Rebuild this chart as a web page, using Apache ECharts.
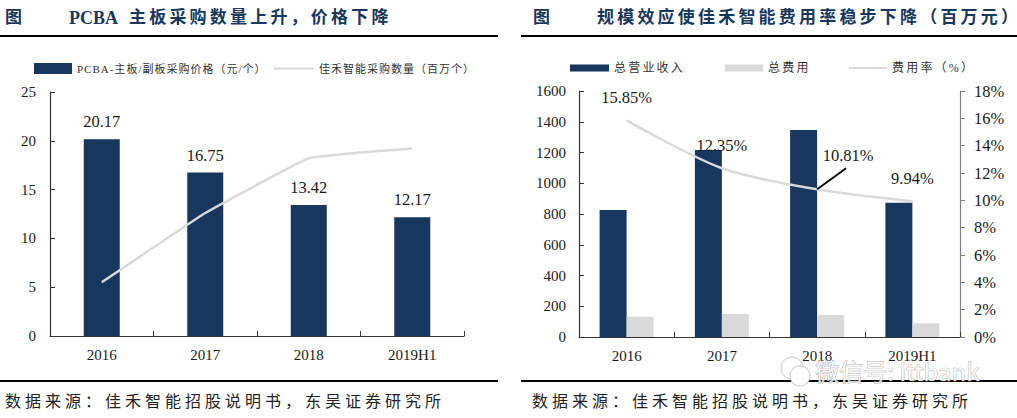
<!DOCTYPE html>
<html>
<head>
<meta charset="utf-8">
<script src="https://cdn.jsdelivr.net/npm/echarts@6/dist/echarts.min.js"></script>
<style>
html,body{margin:0;padding:0;background:#fff}
#c{width:1017px;height:418px}
svg text[style*="17px"]{letter-spacing:3.2px}
svg text[style*="16px"]{letter-spacing:4px}
svg text[style*="12px"]{letter-spacing:2.2px}
svg text[style*="11px"]{letter-spacing:1px}
</style>
</head>
<body>
<div id="c"></div>
<script>
var leftCategories = ['2016','2017','2018','2019H1'];
var pcbaPrice = [20.17,16.75,13.42,12.17];
var purchaseQty = [5.5,12.6,18.2,19.2];
var rightCategories = ['2016','2017','2018','2019H1'];
var revenue = [826,1216,1346,873];
var expense = [132,150,143,89];
var expenseRate = [15.85,12.35,10.81,9.94];
var leftTicks = {min:0,max:25,interval:5};
var revTicks = {min:0,max:1600,interval:200};
var rateTicks = {min:0,max:18,interval:2};

var serif = '"Liberation Serif","Noto Sans CJK SC",serif';
var navy = '#17375e', grey = '#d9d9d9', ink = '#1a1a1a';
var S = ['PCBA-主板/副板采购价格（元/个）','佳禾智能采购数量（百万个）','总营业收入','总费用','费用率（%）'];

function xAxis(i,cats){return {gridIndex:i,type:'category',data:cats,
  axisLine:{lineStyle:{color:'#333',width:1.2}},
  axisTick:{show:true,inside:true,length:5,alignWithLabel:false,lineStyle:{color:'#333'}},
  axisLabel:{fontFamily:serif,fontSize:15,color:ink,margin:11}};}
function yAxis(i,t,pos,size,margin,inside,color){return {gridIndex:i,type:'value',position:pos,min:t.min,max:t.max,interval:t.interval,
  splitLine:{show:false},
  axisLine:{show:true,lineStyle:{color:color,width:1.2}},
  axisTick:{show:true,inside:inside,length:5,lineStyle:{color:color}},
  axisLabel:{fontFamily:serif,fontSize:size,color:ink,margin:margin,
    formatter:function(v){return pos==='right'?v+'%':String(v);}}};}
function legend(name,left,top,w,h,pad,size,icon){
  return {show:true,data:[{name:name,icon:icon||'rect'}],left:left,top:top,itemWidth:w,itemHeight:h,
  selectedMode:false,padding:0,
  textStyle:{fontFamily:serif,fontSize:size,color:'#333',padding:[0,0,0,pad]}};}
function heading(text,left,top,size,bold,color){return {text:text,left:left,top:top,padding:0,
  textStyle:{fontFamily:serif,fontSize:size,fontWeight:bold?'bold':'normal',color:color}};}

var option = {
  animation:false,
  title:[
    heading('图',5,9,17,true,navy),
    heading('PCBA',69,9,18,true,navy),
    heading('主板采购数量上升，价格下降',129,9,17,true,navy),
    heading('图',533,9,17,true,navy),
    heading('规模效应使佳禾智能费用率稳步下降（百万元）',597,9,17,true,navy),
    heading('数据来源：佳禾智能招股说明书，东吴证券研究所',5,393,16,false,'#222'),
    heading('数据来源：佳禾智能招股说明书，东吴证券研究所',532,393,16,false,'#222')
  ],
  legend:[
    legend(S[0],34,63,38,11,0,11),
    legend(S[1],274,63,40,2,0,11),
    legend(S[2],570,62,39,7,0,12),
    legend(S[3],725,62,38,7,0,12),
    legend(S[4],849,62,38,2,0,12)
  ],
  grid:[
    {left:50,top:92,width:414,height:244},
    {left:579,top:91,width:381,height:246}
  ],
  xAxis:[xAxis(0,leftCategories),xAxis(1,rightCategories)],
  yAxis:[
    yAxis(0,leftTicks,'left',15,14,true,'#333'),
    yAxis(1,revTicks,'left',15,13,true,'#333'),
    yAxis(1,rateTicks,'right',16.5,14,false,'#808080')
  ],
  series:[
    {name:S[0],type:'bar',xAxisIndex:0,yAxisIndex:0,data:pcbaPrice,barWidth:36,
     itemStyle:{color:navy},
     label:{show:true,position:'top',distance:9,fontFamily:serif,fontSize:16.5,color:ink,formatter:function(p){return p.value.toFixed(2);}}},
    {name:S[1],type:'line',xAxisIndex:0,yAxisIndex:0,data:purchaseQty,smooth:0.08,showSymbol:false,symbol:'none',
     lineStyle:{color:grey,width:2.5},itemStyle:{color:grey},z:5},
    {name:S[2],type:'bar',xAxisIndex:1,yAxisIndex:1,data:revenue,barWidth:27,barGap:0,itemStyle:{color:navy}},
    {name:S[3],type:'bar',xAxisIndex:1,yAxisIndex:1,data:expense,barWidth:27,barGap:0,itemStyle:{color:grey}},
    {name:S[4],type:'line',xAxisIndex:1,yAxisIndex:2,smooth:0.3,showSymbol:true,symbol:'circle',symbolSize:1,
     data:expenseRate,
     lineStyle:{color:grey,width:2.5},itemStyle:{color:grey},z:5,
     label:{show:true,position:'top',distance:14,fontFamily:serif,fontSize:16.5,color:ink,
       formatter:function(p){return p.value.toFixed(2)+'%';}},
     labelLayout:function(p){ return p.dataIndex===2 ? {dx:31,dy:-11} : {}; }
    },
    {name:'引线',type:'custom',xAxisIndex:1,yAxisIndex:2,z:6,silent:true,
     data:[[2,expenseRate[2]]],
     renderItem:function(params,api){
       var p = api.coord([api.value(0),api.value(1)]);
       return {type:'line',shape:{x1:p[0],y1:p[1],x2:p[0]+29,y2:p[1]-21},style:{stroke:'#000',lineWidth:1.8}};
     }}
  ],
  graphic:[
    {type:'rect',silent:true,shape:{x:0,y:35,width:498,height:2},style:{fill:'#000'}},
    {type:'rect',silent:true,shape:{x:521,y:35,width:496,height:2},style:{fill:'#000'}},
    {type:'rect',silent:true,shape:{x:0,y:380,width:498,height:2},style:{fill:'#000'}},
    {type:'rect',silent:true,shape:{x:521,y:380,width:496,height:2},style:{fill:'#000'}},
    {type:'circle',silent:true,z:100,shape:{cx:792,cy:368,r:11},style:{fill:'rgba(255,255,255,0.75)',stroke:'#c4c4c4',lineWidth:1}},
    {type:'circle',silent:true,z:101,shape:{cx:800,cy:376,r:10},style:{fill:'#fff',stroke:'#c4c4c4',lineWidth:1}},
    {type:'text',silent:true,z:102,left:815,top:358,style:{text:'微信号: ittbank',fontFamily:'"Noto Sans CJK SC",sans-serif',fontSize:24,fill:'rgba(255,255,255,0.8)',stroke:'#a0a0a0',lineWidth:0.7}}
  ]
};
var chart = echarts.init(document.getElementById('c'),null,{renderer:'svg'});
chart.setOption(option);
</script>
</body>
</html>
